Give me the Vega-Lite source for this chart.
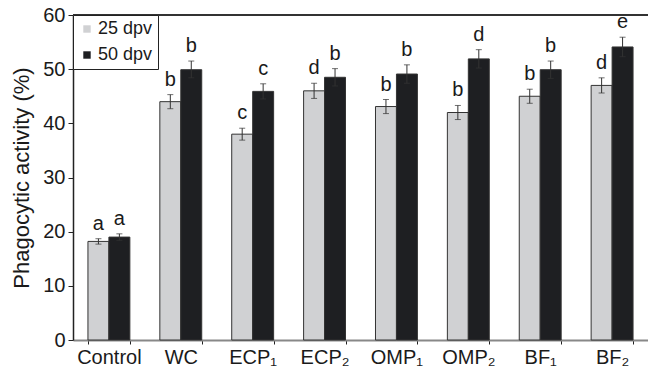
{
  "$schema": "https://vega.github.io/schema/vega-lite/v6.json",
  "width": 575,
  "height": 325,
  "autosize": {"type": "none"},
  "padding": {"left": 73, "top": 15, "right": 0, "bottom": 34},
  "background": "white",
  "config": {
    "font": "Liberation Sans",
    "view": {"stroke": null},
    "axis": {"grid": false, "labelFont": "Liberation Sans", "titleFont": "Liberation Sans", "labelColor": "#1a1a1a", "titleColor": "#1a1a1a"}
  },
  "data": {
    "values": [
      {"group": "Control", "dpv": "25 dpv", "value": 18.2, "lo": 17.7, "hi": 18.7, "letter": "a"},
      {"group": "Control", "dpv": "50 dpv", "value": 19.0, "lo": 18.4, "hi": 19.6, "letter": "a"},
      {"group": "WC", "dpv": "25 dpv", "value": 44.0, "lo": 42.7, "hi": 45.3, "letter": "b"},
      {"group": "WC", "dpv": "50 dpv", "value": 49.9, "lo": 48.4, "hi": 51.5, "letter": "b"},
      {"group": "ECP₁", "dpv": "25 dpv", "value": 38.0, "lo": 36.9, "hi": 39.1, "letter": "c"},
      {"group": "ECP₁", "dpv": "50 dpv", "value": 45.9, "lo": 44.5, "hi": 47.3, "letter": "c"},
      {"group": "ECP₂", "dpv": "25 dpv", "value": 46.0, "lo": 44.6, "hi": 47.4, "letter": "d"},
      {"group": "ECP₂", "dpv": "50 dpv", "value": 48.5, "lo": 46.9, "hi": 50.1, "letter": "b"},
      {"group": "OMP₁", "dpv": "25 dpv", "value": 43.1, "lo": 41.8, "hi": 44.4, "letter": "b"},
      {"group": "OMP₁", "dpv": "50 dpv", "value": 49.1, "lo": 47.4, "hi": 50.8, "letter": "b"},
      {"group": "OMP₂", "dpv": "25 dpv", "value": 42.0, "lo": 40.7, "hi": 43.3, "letter": "b"},
      {"group": "OMP₂", "dpv": "50 dpv", "value": 51.9, "lo": 50.2, "hi": 53.6, "letter": "d"},
      {"group": "BF₁", "dpv": "25 dpv", "value": 45.0, "lo": 43.7, "hi": 46.3, "letter": "b"},
      {"group": "BF₁", "dpv": "50 dpv", "value": 49.9, "lo": 48.3, "hi": 51.5, "letter": "b"},
      {"group": "BF₂", "dpv": "25 dpv", "value": 47.0, "lo": 45.6, "hi": 48.4, "letter": "d"},
      {"group": "BF₂", "dpv": "50 dpv", "value": 54.1, "lo": 52.3, "hi": 55.9, "letter": "e"}
    ]
  },
  "encoding": {
    "x": {
      "field": "group", "type": "nominal",
      "sort": ["Control", "WC", "ECP₁", "ECP₂", "OMP₁", "OMP₂", "BF₁", "BF₂"],
      "scale": {"paddingInner": 0.417, "paddingOuter": 0.208},
      "axis": {"title": null, "labelAngle": 0, "labelFontSize": 20, "labelPadding": 3, "tickBand": "extent", "tickSize": 4, "tickColor": "#222", "domainColor": "#888", "domainWidth": 2}
    },
    "xOffset": {"field": "dpv", "type": "nominal", "sort": ["25 dpv", "50 dpv"]}
  },
  "layer": [
    {
      "mark": {"type": "bar", "stroke": "#333", "strokeWidth": 1},
      "encoding": {
        "y": {
          "field": "value", "type": "quantitative",
          "scale": {"domain": [0, 60], "nice": false},
          "axis": {"title": "Phagocytic activity (%)", "titleFontSize": 22, "titleFontWeight": "normal", "titlePadding": 9, "labelFontSize": 20, "labelPadding": 3, "values": [0, 10, 20, 30, 40, 50, 60], "tickSize": 5, "tickColor": "#222", "domainColor": "#222", "domainWidth": 1.5}
        },
        "color": {
          "field": "dpv", "type": "nominal",
          "scale": {"domain": ["25 dpv", "50 dpv"], "range": ["#d0d1d3", "#1e1f22"]},
          "legend": {"title": null, "orient": "none", "legendX": 0, "legendY": 0, "symbolType": "square", "symbolSize": 55, "symbolStrokeWidth": 0, "labelFontSize": 18, "labelColor": "#1a1a1a", "strokeColor": "#222", "padding": 5, "rowPadding": 8, "labelOffset": 2, "fillColor": "white"}
        }
      }
    },
    {
      "mark": {"type": "rule", "color": "#333", "strokeWidth": 1},
      "encoding": {"y": {"field": "lo", "type": "quantitative"}, "y2": {"field": "hi"}}
    },
    {
      "mark": {"type": "tick", "color": "#333", "thickness": 1, "size": 6, "orient": "horizontal"},
      "encoding": {"y": {"field": "hi", "type": "quantitative"}}
    },
    {
      "mark": {"type": "tick", "color": "#333", "thickness": 1, "size": 6, "orient": "horizontal"},
      "encoding": {"y": {"field": "lo", "type": "quantitative"}}
    },
    {
      "mark": {"type": "text", "fontSize": 20, "color": "#1a1a1a", "baseline": "alphabetic", "dy": -9},
      "encoding": {"y": {"field": "hi", "type": "quantitative"}, "text": {"field": "letter"}}
    },
    {
      "mark": {"type": "rule", "color": "#333", "strokeWidth": 1.5},
      "encoding": {"y": {"datum": 60}, "x": {"value": 0}, "x2": {"value": 575}, "xOffset": {"value": 0}}
    }
  ]
}
